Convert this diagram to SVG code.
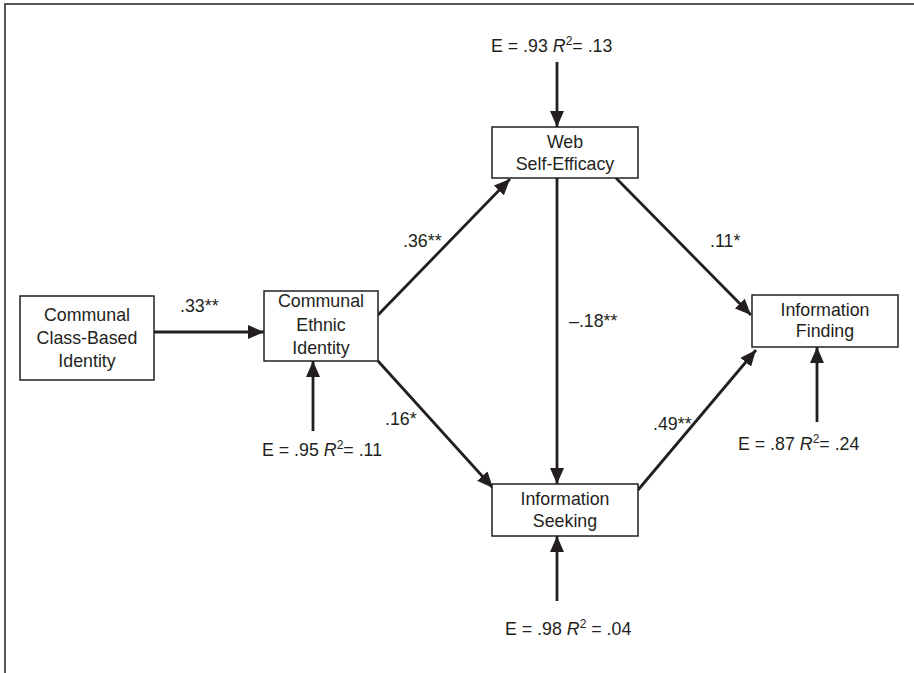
<svg xmlns="http://www.w3.org/2000/svg" width="914" height="673" viewBox="0 0 914 673">
<style>
text{font-family:"Liberation Sans",Arial,sans-serif;font-size:17.8px;fill:#231f20}
.n{text-anchor:middle}
.box{fill:#fff;stroke:#231f20;stroke-width:1.5}
.c{stroke:#231f20;stroke-width:2.8;fill:none;marker-end:url(#ah)}
.sup{font-size:12px}
</style>
<defs>
<marker id="ah" markerUnits="userSpaceOnUse" viewBox="0 0 16 14" markerWidth="16" markerHeight="14" refX="16" refY="7" orient="auto">
<path d="M0,0 L16,7 L0,14 Z" fill="#231f20"/>
</marker>
</defs>
<rect width="914" height="673" fill="#fff"/>
<path d="M5,673 V4 H914" fill="none" stroke="#555" stroke-width="2"/>
<g id="connectors">
<line class="c" x1="154" y1="332" x2="264" y2="332"/>
<line class="c" x1="378" y1="315" x2="510" y2="179"/>
<line class="c" x1="378" y1="361" x2="493" y2="488"/>
<line class="c" x1="616" y1="178" x2="751" y2="315"/>
<line class="c" x1="638" y1="490" x2="756" y2="350"/>
<line class="c" x1="557" y1="178" x2="557" y2="484"/>
<line class="c" x1="557" y1="62" x2="557" y2="127"/>
<line class="c" x1="313" y1="431" x2="313" y2="361"/>
<line class="c" x1="557" y1="601" x2="557" y2="536"/>
<line class="c" x1="817" y1="422" x2="817" y2="347"/>
</g>
<g id="labels">
<text x="180" y="312">.33**</text>
<text x="403" y="247">.36**</text>
<text x="385" y="425">.16*</text>
<text x="710" y="247">.11*</text>
<text x="569" y="327">–.18**</text>
<text x="653" y="430">.49**</text>
<text x="491" y="52">E = .93 <tspan font-style="italic">R</tspan><tspan class="sup" dy="-7">2</tspan><tspan dy="7">= .13</tspan></text>
<text x="262" y="456">E = .95 <tspan font-style="italic">R</tspan><tspan class="sup" dy="-7">2</tspan><tspan dy="7">= .11</tspan></text>
<text x="505" y="635">E = .98 <tspan font-style="italic">R</tspan><tspan class="sup" dy="-7">2</tspan><tspan dy="7"> = .04</tspan></text>
<text x="738" y="450">E = .87 <tspan font-style="italic">R</tspan><tspan class="sup" dy="-7">2</tspan><tspan dy="7">= .24</tspan></text>
</g>
<g id="class-based">
<rect class="box" x="20" y="296" width="134" height="84"/>
<text class="n" x="87" y="321">Communal</text>
<text class="n" x="87" y="344">Class-Based</text>
<text class="n" x="87" y="367">Identity</text>
</g>
<g id="ethnic">
<rect class="box" x="264" y="291" width="114" height="70"/>
<text class="n" x="321" y="307">Communal</text>
<text class="n" x="321" y="331">Ethnic</text>
<text class="n" x="321" y="354">Identity</text>
</g>
<g id="web">
<rect class="box" x="492" y="127" width="146" height="51"/>
<text class="n" x="565" y="148">Web</text>
<text class="n" x="565" y="170">Self-Efficacy</text>
</g>
<g id="seeking">
<rect class="box" x="492" y="484" width="146" height="52"/>
<text class="n" x="565" y="505">Information</text>
<text class="n" x="565" y="527">Seeking</text>
</g>
<g id="finding">
<rect class="box" x="752" y="295" width="146" height="52"/>
<text class="n" x="825" y="316">Information</text>
<text class="n" x="825" y="337">Finding</text>
</g>
</svg>
